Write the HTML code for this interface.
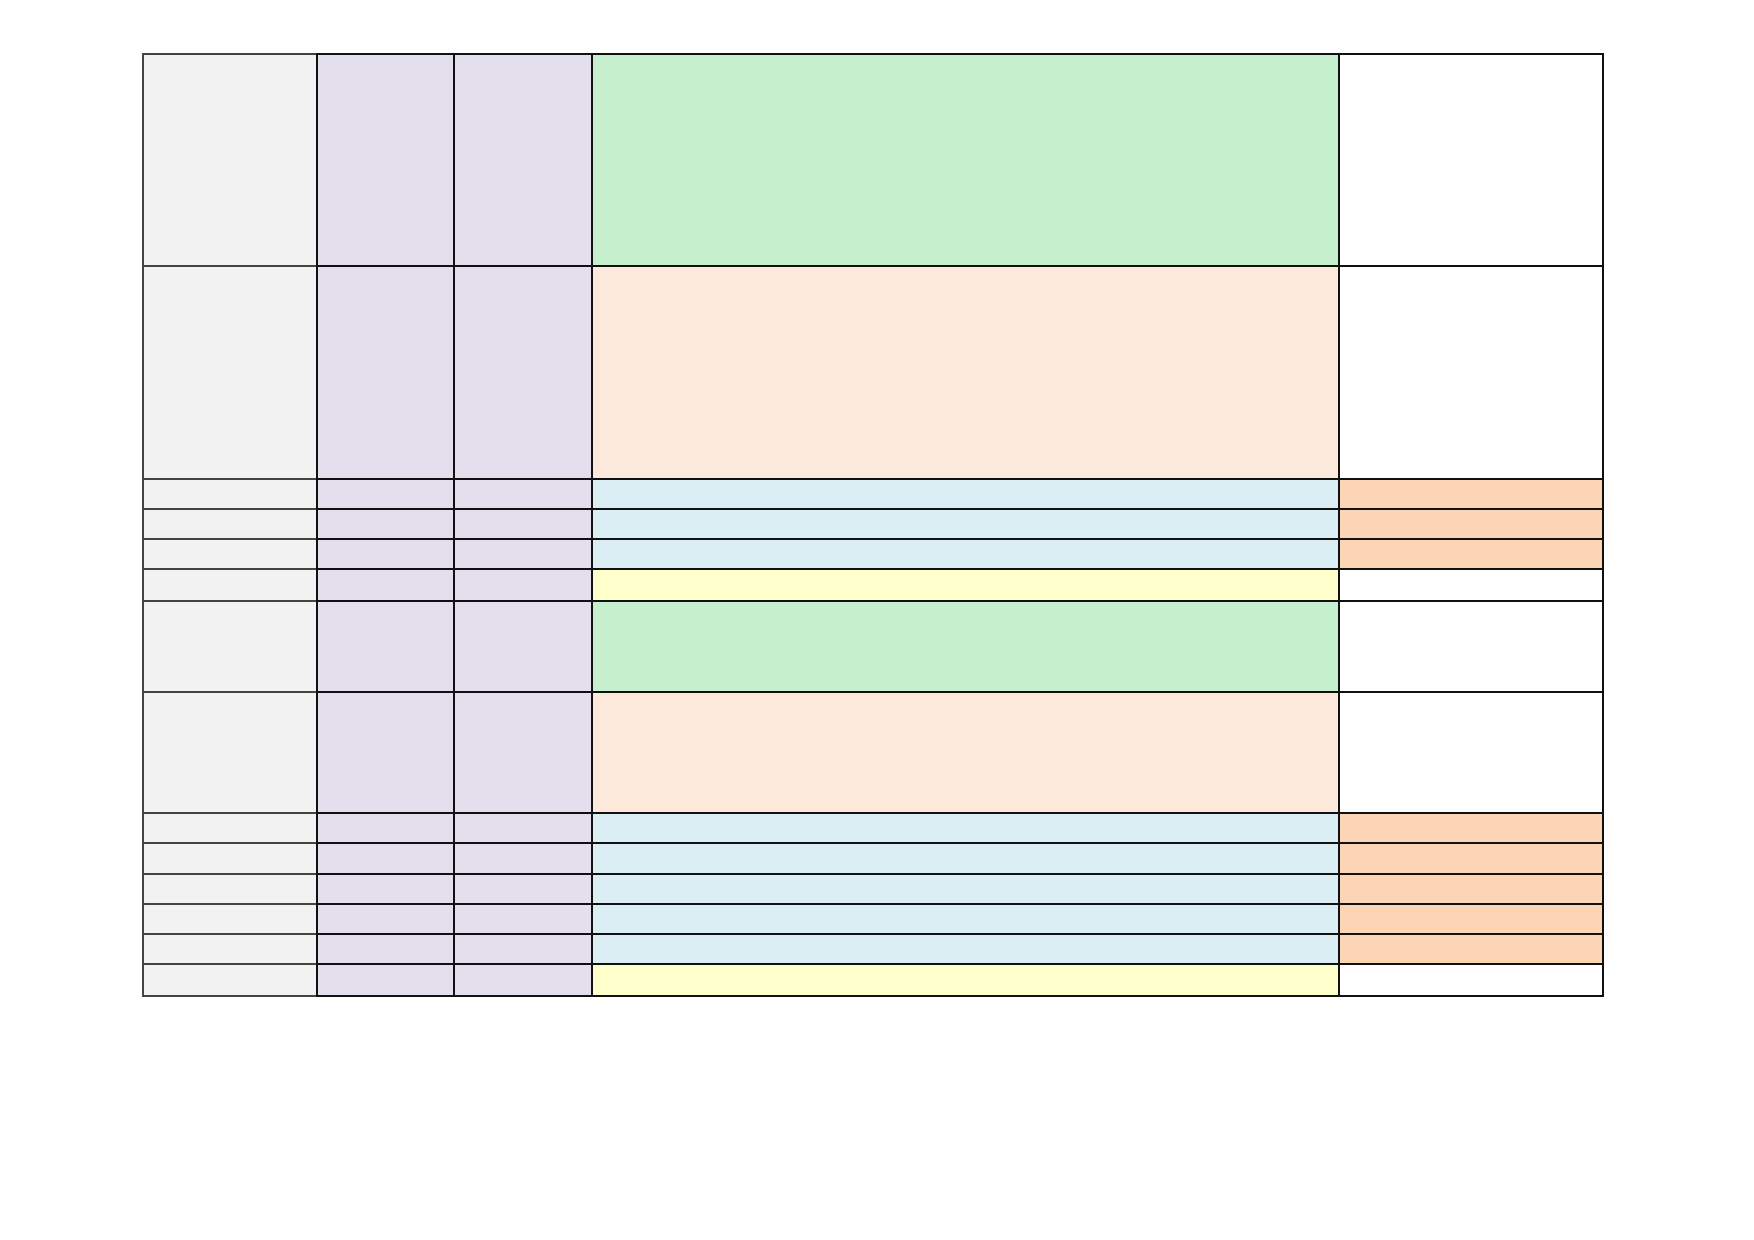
<!DOCTYPE html>
<html><head><meta charset="utf-8"><style>html,body{margin:0;padding:0;background:#fff}</style></head>
<body>
<svg width="1754" height="1240" xmlns="http://www.w3.org/2000/svg" style="display:block">
<g id="t"></g>
</svg>
<script>
const xs=[143,317,454,592,1339,1603];
const ys=[54,266,479,509,539,569,601,692,813,843,874,904,934,964,996];
const c4=['#c6efce','#fce9db','#daeef3','#daeef3','#daeef3','#ffffcc','#c6efce','#fce9db','#daeef3','#daeef3','#daeef3','#daeef3','#daeef3','#ffffcc'];
const c5=['#fff','#fff','#fcd5b4','#fcd5b4','#fcd5b4','#fff','#fff','#fff','#fcd5b4','#fcd5b4','#fcd5b4','#fcd5b4','#fcd5b4','#fff'];
let s='';
for(let r=0;r<14;r++){
 const cols=['#f2f2f2','#e4dfec','#e4dfec',c4[r],c5[r]];
 for(let c=0;c<5;c++){
  s+=`<rect x="${xs[c]}" y="${ys[r]}" width="${xs[c+1]-xs[c]}" height="${ys[r+1]-ys[r]}" fill="${cols[c]}" stroke="${c==0?'#444':'#111'}" stroke-width="2"/>`;
 }
}
document.getElementById('t').innerHTML=s;
</script>
</body></html>
